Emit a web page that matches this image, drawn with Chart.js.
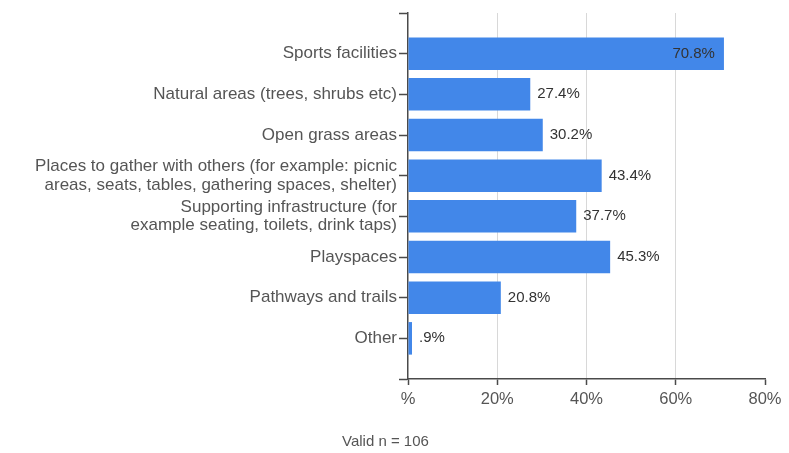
<!DOCTYPE html>
<html>
<head>
<meta charset="utf-8">
<script src="https://cdn.jsdelivr.net/npm/chart.js@4"></script>
<style>
  html, body { margin: 0; padding: 0; background: #ffffff; }
  canvas { display: block; }
</style>
</head>
<body>
<canvas id="c" width="789" height="453"></canvas>
<script>
// Survey responses: which park features matter most
const categories = [
  'Sports facilities',
  'Natural areas (trees, shrubs etc)',
  'Open grass areas',
  ['Places to gather with others (for example: picnic', 'areas, seats, tables, gathering spaces, shelter)'],
  ['Supporting infrastructure (for', 'example seating, toilets, drink taps)'],
  'Playspaces',
  'Pathways and trails',
  'Other'
];
const percentages = [70.8, 27.4, 30.2, 43.4, 37.7, 45.3, 20.8, 0.9];
const xTicks = [0, 20, 40, 60, 80];
const xTickLabels = ['%', '20%', '40%', '60%', '80%'];
const noteText = 'Valid n = 106';

const FONT = '"Liberation Sans", Arial, sans-serif';
const BAR_COLOR = '#4287e9';
const AXIS_COLOR = '#4a4a4a';
const GRID_COLOR = '#d8d8d8';

// Empty slots at each end give the axis its margin above and below the bars
const yLabels = [''].concat(categories, ['']);
const yValues = [null].concat(percentages, [null]);

function formatPct(v) {
  return v.toFixed(1).replace(/^0\./, '.') + '%';
}

const valueLabels = {
  id: 'valueLabels',
  afterDatasetsDraw(chart) {
    const ctx = chart.ctx;
    const area = chart.chartArea;
    const meta = chart.getDatasetMeta(0);
    ctx.save();
    ctx.font = '15px ' + FONT;
    ctx.fillStyle = '#333333';
    ctx.textBaseline = 'middle';
    meta.data.forEach((bar, i) => {
      const v = yValues[i];
      if (v === null || v === undefined) return;
      const text = formatPct(v);
      const w = ctx.measureText(text).width;
      if (bar.x + 7 + w > area.right) {
        ctx.textAlign = 'right';
        ctx.fillText(text, bar.x - 9, bar.y);
      } else {
        ctx.textAlign = 'left';
        ctx.fillText(text, bar.x + 7, bar.y);
      }
    });
    ctx.restore();
  }
};

const footNote = {
  id: 'footNote',
  afterDraw(chart) {
    const ctx = chart.ctx;
    const area = chart.chartArea;
    ctx.save();
    ctx.font = '15px ' + FONT;
    ctx.fillStyle = '#555555';
    ctx.textAlign = 'left';
    ctx.textBaseline = 'middle';
    ctx.fillText(noteText, area.left - 66, 442);
    ctx.restore();
  }
};

new Chart(document.getElementById('c'), {
  type: 'bar',
  data: {
    labels: yLabels,
    datasets: [{
      data: yValues,
      backgroundColor: BAR_COLOR,
      borderWidth: 0,
      barPercentage: 0.8,
      categoryPercentage: 1.0
    }]
  },
  options: {
    indexAxis: 'y',
    responsive: false,
    devicePixelRatio: 1,
    animation: false,
    layout: { padding: { top: 13, right: 24, bottom: 0, left: 0 } },
    plugins: {
      legend: { display: false },
      tooltip: { enabled: false },
      title: { display: false }
    },
    scales: {
      x: {
        type: 'linear',
        min: 0,
        max: 80,
        afterBuildTicks(scale) {
          scale.ticks = xTicks.map(v => ({ value: v }));
        },
        afterFit(scale) { scale.height = 74; },
        ticks: {
          color: '#555555',
          font: { family: FONT, size: 16.5 },
          padding: 5,
          maxRotation: 0,
          callback(value) {
            const i = xTicks.indexOf(value);
            return i >= 0 ? xTickLabels[i] : '';
          }
        },
        grid: {
          drawOnChartArea: true,
          color(ctx) {
            const v = ctx.tick && ctx.tick.value;
            return (v > 0 && v < 80) ? GRID_COLOR : 'rgba(0,0,0,0)';
          },
          tickColor: AXIS_COLOR,
          tickLength: 6,
          tickWidth: 1.5,
          lineWidth: 1
        },
        border: { display: true, color: AXIS_COLOR, width: 1.5 }
      },
      y: {
        type: 'category',
        offset: false,
        afterFit(scale) { scale.width = 408; },
        ticks: {
          color: '#555555',
          font: { family: FONT, size: 17, lineHeight: 1.1 },
          padding: 2,
          autoSkip: false
        },
        grid: {
          offset: false,
          drawOnChartArea: false,
          drawTicks: true,
          tickLength: 9,
          tickColor: AXIS_COLOR,
          tickWidth: 1.5
        },
        border: { display: true, color: AXIS_COLOR, width: 1.5 }
      }
    }
  },
  plugins: [valueLabels, footNote]
});
</script>
</body>
</html>
